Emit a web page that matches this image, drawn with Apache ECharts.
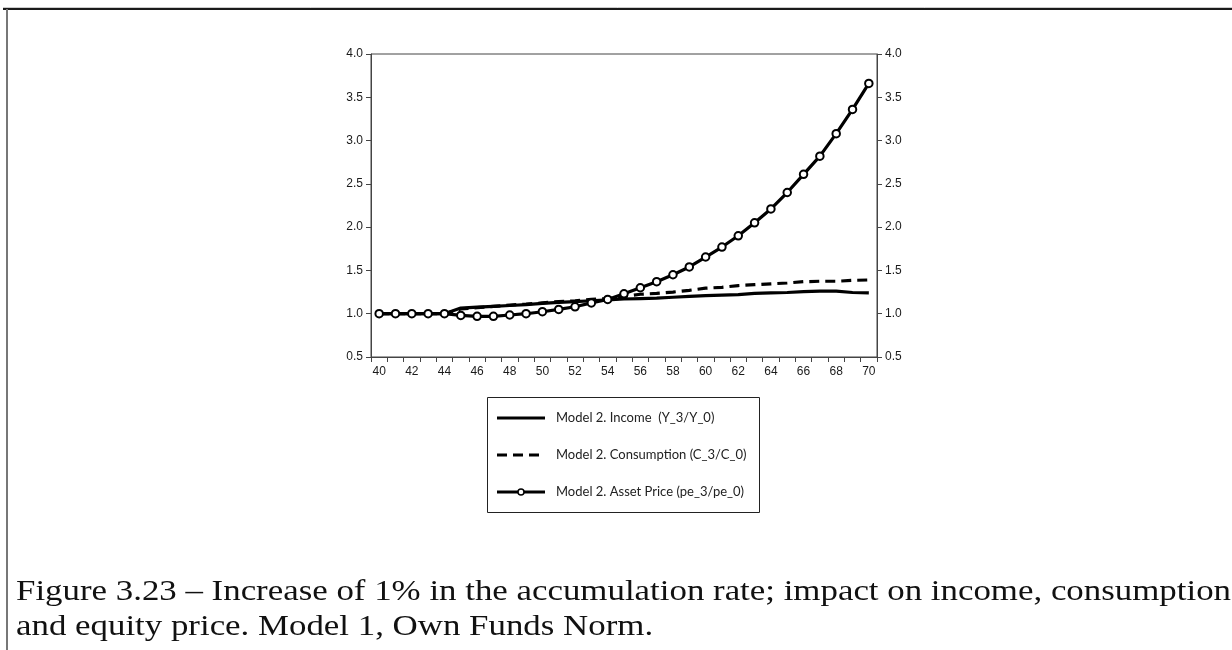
<!DOCTYPE html>
<html>
<head>
<meta charset="utf-8">
<script src="https://cdn.jsdelivr.net/npm/echarts@6/dist/echarts.min.js"></script>
<style>html,body{margin:0;padding:0;background:#fff;}#c{width:1232px;height:650px;}</style>
</head>
<body>
<div id="c"></div>
<script>
const years = ['40','41','42','43','44','45','46','47','48','49','50','51','52','53','54','55','56','57','58','59','60','61','62','63','64','65','66','67','68','69','70'];
const income = [1.0,1.0,1.0,1.0,1.0,1.065,1.075,1.085,1.095,1.105,1.12,1.13,1.14,1.15,1.16,1.17,1.175,1.18,1.19,1.20,1.21,1.215,1.22,1.235,1.24,1.245,1.255,1.26,1.26,1.245,1.24];
const consumption = [1.0,1.0,1.0,1.0,1.0,1.055,1.07,1.085,1.10,1.11,1.125,1.14,1.15,1.165,1.175,1.20,1.225,1.235,1.25,1.27,1.295,1.305,1.325,1.335,1.345,1.355,1.37,1.375,1.375,1.385,1.39];
const assetPrice = [1.0,1.0,1.0,1.0,1.0,0.98,0.97,0.97,0.985,1.0,1.023,1.05,1.08,1.125,1.165,1.23,1.30,1.37,1.45,1.54,1.655,1.77,1.90,2.05,2.21,2.40,2.61,2.82,3.08,3.36,3.66];
const seriesNames = ['Model 2. Income  (Y_3/Y_0)','Model 2. Consumption (C_3/C_0)','Model 2. Asset Price (pe_3/pe_0)'];
const captionLines = ['Figure 3.23 \u2013 Increase of 1% in the accumulation rate; impact on income, consumption','and equity price. Model 1, Own Funds Norm.'];

const capFamily = 'Liberation Serif';
const capSize = 30;
const ctx = document.createElement('canvas').getContext('2d');
ctx.font = capSize + 'px "' + capFamily + '"';
const w1 = ctx.measureText(captionLines[0]).width;
const capScale = 1215 / w1;

const chart = echarts.init(document.getElementById('c'));
const axisTxt = {color:'#1a1a1a', fontFamily:'Liberation Sans', fontSize:12};
const yAx = (pos) => ({
  type:'value', position:pos, min:0.5, max:4.0, interval:0.5,
  axisLine:{show:true, lineStyle:{color:'#444', width:1}},
  axisTick:{show:true, length:5, lineStyle:{color:'#444'}},
  axisLabel:Object.assign({formatter:v=>v.toFixed(1), margin:8}, axisTxt),
  splitLine:{show:false}
});
const legX = 497, legY = [418, 455, 492], legW = 48;
const legTxt = {fill:'#222', fontFamily:'Lato', fontSize:13, verticalAlign:'middle', align:'left'};
const legendGraphics = [
  {type:'rect', shape:{x:487.5,y:397.5,width:272,height:115}, style:{fill:'none', stroke:'#222', lineWidth:1}},
  {type:'line', shape:{x1:legX,y1:legY[0],x2:legX+legW,y2:legY[0]}, style:{stroke:'#000', lineWidth:3}},
  {type:'line', shape:{x1:legX,y1:legY[1],x2:legX+legW,y2:legY[1]}, style:{stroke:'#000', lineWidth:3, lineDash:[10,6]}},
  {type:'line', shape:{x1:legX,y1:legY[2],x2:legX+legW,y2:legY[2]}, style:{stroke:'#000', lineWidth:3}},
  {type:'circle', shape:{cx:legX+legW/2, cy:legY[2], r:3}, style:{fill:'#fff', stroke:'#000', lineWidth:1.5}},
];
seriesNames.forEach((n,i)=>legendGraphics.push({type:'text', x:556, y:legY[i], style:Object.assign({text:n}, legTxt)}));

chart.setOption({
  animation:false,
  backgroundColor:'#fff',
  grid:{left:371, right:355, top:54, bottom:293, show:true, borderColor:'#444', borderWidth:1},
  xAxis:{type:'category', data:years, boundaryGap:true,
    axisLine:{lineStyle:{color:'#444'}},
    axisTick:{show:true, length:5, interval:0, lineStyle:{color:'#444'}},
    axisLabel:Object.assign({interval:1, margin:9}, axisTxt)},
  yAxis:[yAx('left'), yAx('right')],
  graphic:[
    {type:'line', shape:{x1:3,y1:9,x2:1232,y2:9}, style:{stroke:'#1a1a1a', lineWidth:2}},
    {type:'line', shape:{x1:3,y1:7.5,x2:1232,y2:7.5}, style:{stroke:'#ccc', lineWidth:1}},
    {type:'line', shape:{x1:7,y1:9,x2:7,y2:650}, style:{stroke:'#777', lineWidth:2}},
    {type:'group', children:legendGraphics},
    {type:'text', x:16, y:577, scaleX:capScale, style:{text:captionLines[0], fontFamily:capFamily, fontSize:capSize, fill:'#111', verticalAlign:'top'}},
    {type:'text', x:16, y:612, scaleX:capScale, style:{text:captionLines[1], fontFamily:capFamily, fontSize:capSize, fill:'#111', verticalAlign:'top'}}
  ],
  series:[
    {name:seriesNames[0], type:'line', data:income, showSymbol:false, symbol:'none',
      lineStyle:{color:'#000', width:3.2}, itemStyle:{color:'#000'}},
    {name:seriesNames[1], type:'line', data:consumption, showSymbol:false, symbol:'none',
      lineStyle:{color:'#000', width:3.2, type:[10,6]}, itemStyle:{color:'#000'}},
    {name:seriesNames[2], type:'line', data:assetPrice, symbol:'circle', symbolSize:7.5,
      lineStyle:{color:'#000', width:3.2}, itemStyle:{color:'#fff', borderColor:'#000', borderWidth:2}, z:3}
  ]
});
</script>
</body>
</html>
